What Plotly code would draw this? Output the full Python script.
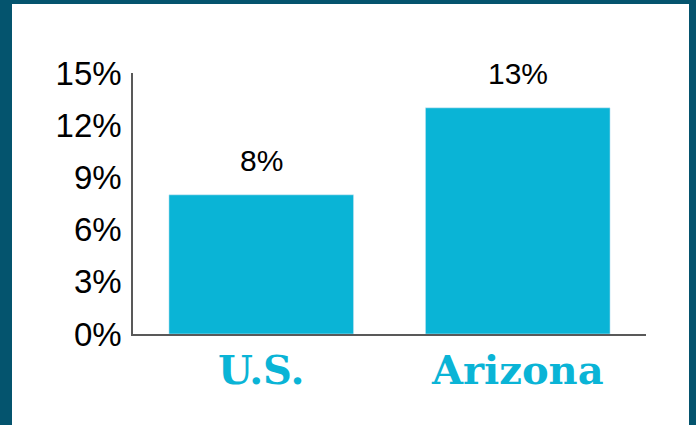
import plotly.graph_objects as go

# data
categories = ["U.S.", "Arizona"]
values = [8, 13]
labels = ["8%", "13%"]
y_ticks = [0, 3, 6, 9, 12, 15]
y_ticktext = [f"{v}%" for v in y_ticks]

BAR = "#0AB4D6"
FRAME = "#04546E"
AXIS = "#595959"

W, H = 696, 425
ML, MR, MT, MB = 133, 50, 73, 91
pw, ph = W - ML - MR, H - MT - MB


def px_x(p):
    return (p - ML) / pw


def px_y(p):
    return (H - MB - p) / ph


fig = go.Figure()
fig.add_trace(go.Bar(x=categories, y=values, marker_color=BAR, width=0.72))

for c, v, t in zip(categories, values, labels):
    fig.add_annotation(x=c, y=v, text=t, showarrow=False, yanchor="bottom",
                       yshift=16, font=dict(family="Liberation Sans, Arial", size=30, color="#000"))

# dark frame (left, top, right)
for x0, x1, y0, y1 in [(0, 12, 0, H), (0, W, 0, 4), (689, W, 0, H)]:
    fig.add_shape(type="rect", xref="paper", yref="paper",
                  x0=px_x(x0), x1=px_x(x1), y0=px_y(y1), y1=px_y(y0),
                  fillcolor=FRAME, line_width=0, layer="above")

fig.update_layout(
    width=W, height=H,
    margin=dict(l=ML, r=MR, t=MT, b=MB),
    paper_bgcolor="white", plot_bgcolor="white",
    showlegend=False,
    xaxis=dict(showline=True, linecolor=AXIS, linewidth=1.5, showgrid=False,
               ticks="", tickfont=dict(family="DejaVu Serif", size=40, color=BAR, weight="bold")),
    yaxis=dict(range=[0, 15], tickvals=y_ticks, ticktext=y_ticktext, showline=True,
               linecolor=AXIS, linewidth=1.5, showgrid=False, zeroline=False, ticks="",
               ticklabelstandoff=3,
               tickfont=dict(family="Liberation Sans, Arial", size=33, color="#000")),
)

fig.write_html("out.html", config={"displayModeBar": False},
               post_script="document.body.style.margin='0';")
